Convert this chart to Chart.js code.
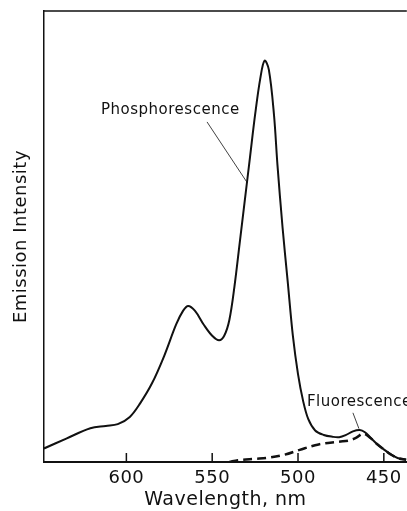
<!DOCTYPE html>
<html>
<head>
<meta charset="utf-8">
<script src="https://cdn.jsdelivr.net/npm/chart.js@4"></script>
<style>
  html, body { margin: 0; padding: 0; background: #fff; }
  #wrap { width: 407px; height: 511px; }
</style>
</head>
<body>
<div id="wrap"><canvas id="spectrumChart"></canvas></div>
<script>
// wavelength (nm)
const phosWavelength = [648, 635, 621, 612, 605, 598, 592, 585, 578, 571, 567, 564, 560, 555, 550, 546, 543, 540, 537, 534, 531, 528, 525, 522, 519.5, 517, 514, 512, 509, 506, 503, 500, 497, 494, 490, 485, 480, 476, 472, 468, 464, 461, 458, 454, 450, 446, 442, 437];
const phosIntensity  = [3.0, 5.2, 7.5, 8.0, 8.4, 10, 13, 17.5, 23.5, 30.5, 33.5, 34.6, 33.5, 30.5, 28, 27, 28, 31.5, 39, 48.5, 58, 67.5, 77, 85, 89, 87, 77, 66, 52, 40, 28, 19.5, 13.5, 9.5, 7, 6, 5.6, 5.5, 6, 6.8, 7.1, 6.6, 5.5, 4, 2.8, 1.7, 0.9, 0.5];

const fluorWavelength = [540, 535, 525, 518, 508, 499, 488, 476, 470, 466, 462, 458, 454, 450, 446, 442, 437];
const fluorIntensity  = [0, 0.4, 0.7, 0.9, 1.6, 2.7, 3.9, 4.5, 4.8, 5.4, 6.3, 5.4, 4, 2.8, 1.7, 0.9, 0.5];

const xTicks = [600, 550, 500, 450];

const toPoints = (xs, ys) => xs.map((x, i) => ({ x: x, y: ys[i] }));

const FONT = "'DejaVu Sans', sans-serif";

// border on top + inward tick marks + curve labels
const framePlugin = {
  id: "frame",
  beforeDraw(chart) {
    chart.ctx.letterSpacing = "0.5px";
  },
  afterDraw(chart) {
    const { ctx, chartArea } = chart;
    const xs = chart.scales.x, ys = chart.scales.y;
    ctx.save();
    ctx.strokeStyle = "#111";
    ctx.lineWidth = 1.5;
    ctx.beginPath();
    ctx.moveTo(chartArea.left, chartArea.top);
    ctx.lineTo(chartArea.right, chartArea.top);
    xTicks.forEach(v => {
      const px = xs.getPixelForValue(v);
      ctx.moveTo(px, chartArea.bottom);
      ctx.lineTo(px, chartArea.bottom - 9);
    });
    ctx.stroke();

    // leader lines
    ctx.lineWidth = 0.8;
    ctx.beginPath();
    ctx.moveTo(xs.getPixelForValue(553), ys.getPixelForValue(75.4));
    ctx.lineTo(xs.getPixelForValue(529.7), ys.getPixelForValue(62));
    ctx.moveTo(xs.getPixelForValue(468), ys.getPixelForValue(10.9));
    ctx.lineTo(xs.getPixelForValue(464.5), ys.getPixelForValue(7.4));
    ctx.stroke();

    ctx.fillStyle = "#111";
    ctx.font = "15px " + FONT;
    ctx.textBaseline = "middle";
    ctx.textAlign = "center";
    ctx.fillText("Phosphorescence", xs.getPixelForValue(574.4), ys.getPixelForValue(78));
    ctx.textAlign = "left";
    ctx.fillText("Fluorescence", xs.getPixelForValue(494.8), ys.getPixelForValue(13.3));
    ctx.restore();
  }
};

document.addEventListener("DOMContentLoaded", () => {
  const ctx = document.getElementById("spectrumChart").getContext("2d");

  new Chart(ctx, {
    type: "line",
    data: {
      datasets: [{
        label: "Phosphorescence",
        data: toPoints(phosWavelength, phosIntensity),
        borderColor: "#111",
        borderWidth: 2,
        pointRadius: 0,
        tension: 0.35
      }, {
        label: "Fluorescence",
        data: toPoints(fluorWavelength, fluorIntensity),
        borderColor: "#111",
        borderWidth: 2.5,
        borderDash: [9, 5],
        pointRadius: 0,
        tension: 0.35
      }]
    },
    options: {
      responsive: true,
      maintainAspectRatio: false,
      animation: false,
      layout: { padding: { top: 11, right: 0, left: 0, bottom: 0 } },
      plugins: {
        legend: { display: false },
        tooltip: { enabled: false }
      },
      scales: {
        x: {
          type: "linear",
          reverse: true,
          min: 436.6,
          max: 648,
          afterFit: scale => { scale.height = 49; },
          afterBuildTicks: scale => { scale.ticks = xTicks.map(v => ({ value: v })); },
          ticks: {
            includeBounds: false,
            color: "#111",
            padding: 6,
            font: { family: FONT, size: 18 }
          },
          grid: { display: false, drawTicks: false },
          border: { display: true, color: "#111", width: 2 },
          title: {
            display: true,
            text: "Wavelength, nm",
            color: "#111",
            padding: { top: 0, bottom: 0 },
            font: { family: FONT, size: 19 }
          }
        },
        y: {
          min: 0,
          max: 100,
          afterFit: scale => { scale.width = 44; },
          ticks: { display: false },
          grid: { display: false, drawTicks: false },
          border: { display: true, color: "#111", width: 1.5 },
          title: {
            display: true,
            text: "Emission Intensity",
            color: "#111",
            padding: { top: 11, bottom: 0 },
            font: { family: FONT, size: 18 }
          }
        }
      }
    },
    plugins: [framePlugin]
  });
});
</script>
</body>
</html>
